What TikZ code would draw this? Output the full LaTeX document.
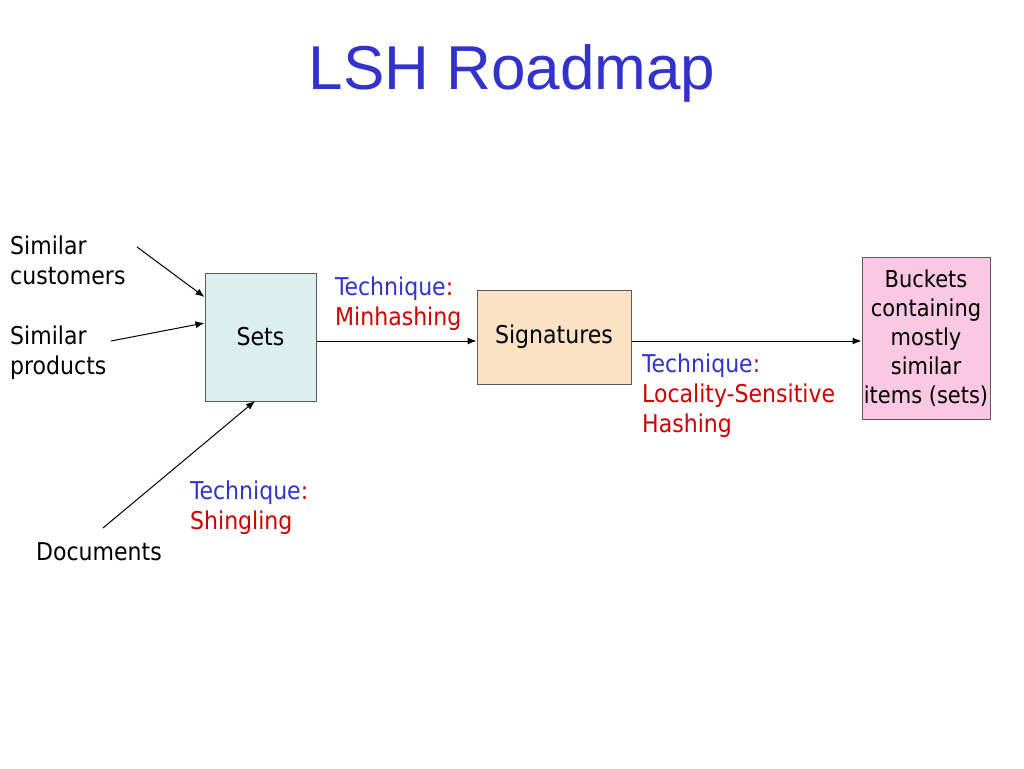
\documentclass[tikz,border=0pt]{standalone}
\usepackage{fontspec}
\setmainfont{DejaVu Sans Condensed}
\newfontfamily\titlefont{Liberation Sans}
\usetikzlibrary{arrows.meta}
\definecolor{tblue}{RGB}{51,51,204}
\definecolor{tred}{RGB}{204,0,0}
\definecolor{setsfill}{RGB}{220,238,238}
\definecolor{sigfill}{RGB}{252,226,196}
\definecolor{buckfill}{RGB}{250,200,226}
\definecolor{boxline}{RGB}{90,90,90}
\newcommand{\techword}{\textcolor{tblue}{Technique}:}
\begin{document}
\begin{tikzpicture}[x=1pt,y=-1pt,
  lbl/.style={font=\fontsize{24.5}{30}\selectfont, inner sep=0pt, align=left, anchor=west},
  tlbl/.style={lbl, text=tred},
  box/.style={draw=boxline, line width=1pt, inner sep=0pt, font=\fontsize{24.5}{29}\selectfont, align=center},
  arr/.style={-{Latex[length=9pt,width=7pt]}, line width=1pt}]
\useasboundingbox (0,0) rectangle (1024,768);
\node[font=\titlefont\fontsize{62}{70}\selectfont, text=tblue, inner sep=0pt] (title) at (512,73) {LSH Roadmap};
% boxes
\node[box, fill=setsfill, minimum width=111pt, minimum height=128pt] (sets) at (260.5,337) {\raisebox{-2pt}{Sets}};
\node[box, fill=sigfill, minimum width=154pt, minimum height=94pt] (sig) at (554,337) {\raisebox{-2pt}{Signatures}};
\node[box, fill=buckfill, minimum width=128pt, minimum height=162pt, font=\fontsize{23.3}{29}\selectfont] (buck) at (926,338) {Buckets\\containing\\mostly\\similar\\items (sets)};
% inputs
\node[lbl] (cust) at (10,260) {Similar\\customers};
\node[lbl] (prod) at (10,353) {Similar\\products};
\node[font=\fontsize{24.5}{30}\selectfont, inner sep=0pt] (docs) at (99,552) {Documents};
\coordinate (custend) at (137,247);
\coordinate (prodend) at (111,341);
\coordinate (docsend) at (103,528);
\coordinate (setsdocs) at (255,401);
% technique labels
\node[tlbl] (shing) at (190,508) {\techword\\Shingling};
\node[tlbl] (minh) at (335,303.5) {\techword\\Minhashing};
\node[tlbl] (lshl) at (642,395.5) {\techword\\Locality-Sensitive\\Hashing};
% arrows
\draw[arr] (custend) -- (sets.west |- 0,297);
\draw[arr] (prodend) -- (sets.west |- 0,323);
\draw[arr] (docsend) -- (setsdocs);
\draw[arr] (sets.east |- 0,341) -- (sig.west |- 0,341);
\draw[arr] (sig.east |- 0,341) -- (buck.west |- 0,341);
\end{tikzpicture}
\end{document}
